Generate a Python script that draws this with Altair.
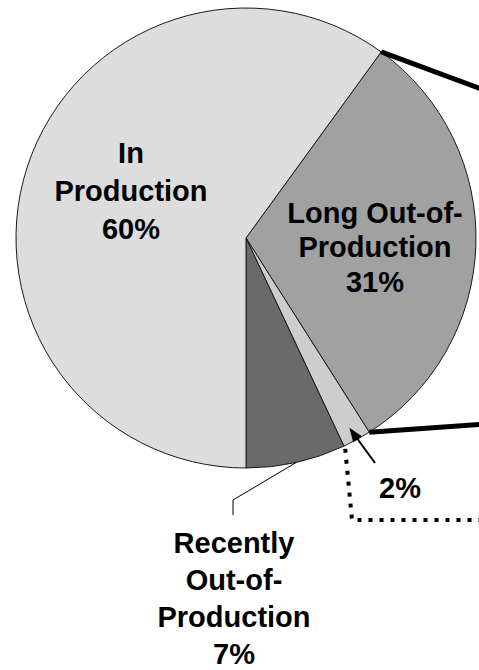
import math

import altair as alt
import pandas as pd

# Slices in clockwise order, starting from the upper-right edge
categories = ["Long Out-of-Production", "Other", "Recently Out-of-Production", "In Production"]
shares = [31, 2, 7, 60]
label_lines = [
    ["Long Out-of-", "Production"],
    [],
    ["Recently", "Out-of-", "Production"],
    ["In", "Production"],
]
slice_colors = ["#A1A1A1", "#CDCDCD", "#6A6A6A", "#DDDDDD"]

# Pie geometry (pixels) and start angle (degrees clockwise from 12 o'clock)
CX, CY, R = 246, 238, 230
START_DEG = 36.0
W, H = 479, 670
FONT = "Liberation Sans"

total = sum(shares)
bounds = [START_DEG]
for s in shares:
    bounds.append(bounds[-1] + 360.0 * s / total)


def polar(deg, radius):
    a = math.radians(deg)
    return CX + radius * math.sin(a), CY - radius * math.cos(a)


pie_df = pd.DataFrame({
    "category": categories,
    "share": shares,
    "order": list(range(len(categories))),
})

start_rad = math.radians(START_DEG)
pie = alt.Chart(pie_df).mark_arc(
    radius=R, stroke="#1a1a1a", strokeWidth=1
).encode(
    theta=alt.Theta("share:Q", stack=True,
                    scale=alt.Scale(range=[start_rad, start_rad + 2 * math.pi])),
    color=alt.Color("category:N",
                    scale=alt.Scale(domain=categories, range=slice_colors),
                    legend=None),
    order=alt.Order("order:Q"),
    x=alt.value(CX),
    y=alt.value(CY),
)

# Thick connector lines from the edges of the large grey slice
ux, uy = polar(bounds[0], R)
lx, ly = polar(bounds[1], R)
conn_df = pd.DataFrame({
    "x": [ux, lx], "y": [uy, ly],
    "x2": [W + 2, W + 2], "y2": [uy + 0.37 * (W + 2 - ux), ly - 0.07 * (W + 2 - lx)],
})
connectors = alt.Chart(conn_df).mark_rule(
    color="black", strokeWidth=5, strokeCap="butt"
).encode(
    x=alt.X("x:Q", scale=None), y=alt.Y("y:Q", scale=None),
    x2="x2:Q", y2="y2:Q",
)

# Dotted bracket from the small slice
dx0, dy0 = polar(bounds[2], R + 3)
dot_df = pd.DataFrame({
    "x": [dx0, 352, W + 2],
    "y": [dy0, 520, 520],
    "k": [0, 1, 2],
})
dotted = alt.Chart(dot_df).mark_line(
    color="black", strokeWidth=4, strokeDash=[4, 7], strokeCap="butt"
).encode(
    x=alt.X("x:Q", scale=None), y=alt.Y("y:Q", scale=None), order="k:Q",
)

# Arrow pointing into the 2% slice
mid_small = (bounds[1] + bounds[2]) / 2
tipx, tipy = polar(mid_small, 216)
ux_dir, uy_dir = math.sin(math.radians(mid_small)), -math.cos(math.radians(mid_small))
head_len = 14
hx, hy = tipx + (head_len / 2) * ux_dir, tipy + (head_len / 2) * uy_dir
tailx, taily = 375, 463
shaft_df = pd.DataFrame({"x": [tailx], "y": [taily], "x2": [hx], "y2": [hy]})
shaft = alt.Chart(shaft_df).mark_rule(color="black", strokeWidth=2).encode(
    x=alt.X("x:Q", scale=None), y=alt.Y("y:Q", scale=None), x2="x2:Q", y2="y2:Q",
)
arrow_angle = math.degrees(math.atan2(tipx - tailx, -(tipy - taily))) % 360
head_df = pd.DataFrame({"x": [hx], "y": [hy]})
head = alt.Chart(head_df).mark_point(
    shape="M0,-1L0.75,1L-0.75,1Z", filled=True, color="black", opacity=1,
    size=(head_len) ** 2, angle=arrow_angle,
).encode(x=alt.X("x:Q", scale=None), y=alt.Y("y:Q", scale=None))

# Thin leader line to the "Recently" label
mid_recent = (bounds[2] + bounds[3]) / 2
rx, ry = polar(mid_recent, R)
lead_df = pd.DataFrame({"x": [rx, 233, 233], "y": [ry, 500, 515], "k": [0, 1, 2]})
leader = alt.Chart(lead_df).mark_line(color="black", strokeWidth=1).encode(
    x=alt.X("x:Q", scale=None), y=alt.Y("y:Q", scale=None), order="k:Q",
)

# Labels: (x centre, first baseline, line height)
label_pos = [(375, 222.5, 34.5), (400, 498, 34), (234, 553, 37), (131, 162.5, 38.3)]
text_layers = []
for lines, share, (tx, ty, lh) in zip(label_lines, shares, label_pos):
    txt = "\n".join(lines + [f"{share}%"])
    tdf = pd.DataFrame({"t": [txt]})
    text_layers.append(
        alt.Chart(tdf).mark_text(
            font=FONT, fontWeight="bold", fontSize=29, color="black",
            align="center", baseline="alphabetic", lineBreak="\n", lineHeight=lh,
        ).encode(text="t:N", x=alt.value(tx), y=alt.value(ty))
    )

chart = alt.layer(pie, connectors, dotted, shaft, head, leader, *text_layers).properties(
    width=W, height=H, padding=0, autosize="none", background="white"
).configure_view(stroke=None)

chart.save("out.html", embed_options={"renderer": "svg", "actions": False})
